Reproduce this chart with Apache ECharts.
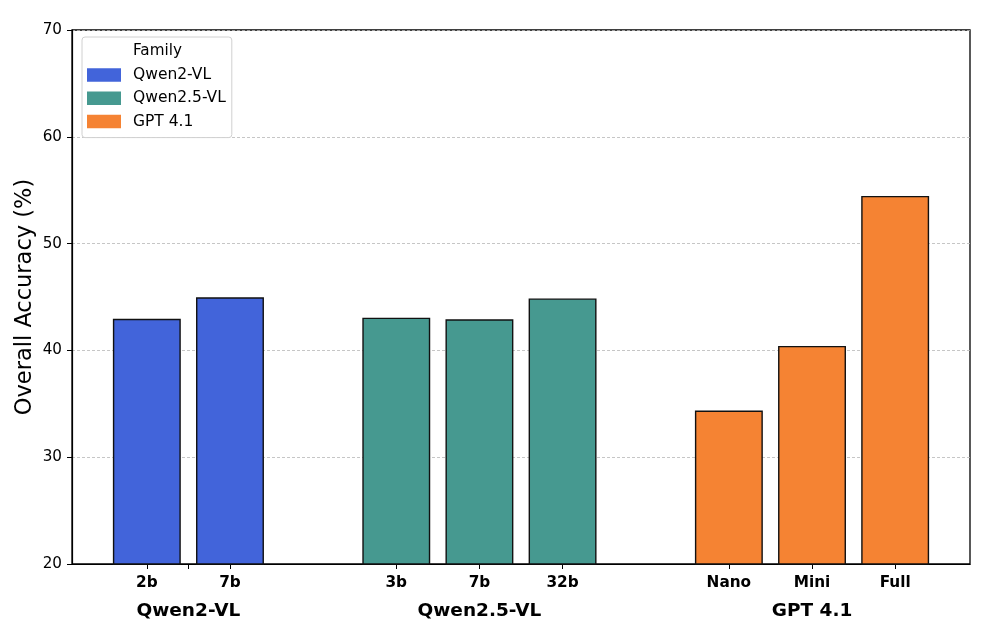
<!DOCTYPE html>
<html><head><meta charset="utf-8">
<script src="https://cdn.jsdelivr.net/npm/echarts@6/dist/echarts.min.js"></script>
<style>html,body{margin:0;padding:0;background:#fff}#c{width:996px;height:636px}</style>
</head><body><div id="c"></div>
<script>
const families = ['Qwen2-VL', 'Qwen2.5-VL', 'GPT 4.1'];
const qwen2Models = ['2b', '7b'];
const qwen2Values = [42.9, 44.9];
const qwen25Models = ['3b', '7b', '32b'];
const qwen25Values = [43.0, 42.85, 44.8];
const gptModels = ['Nano', 'Mini', 'Full'];
const gptValues = [34.3, 40.35, 54.4];
const yTicks = [20, 30, 40, 50, 60, 70];
const colors = ['#4264DA', '#469990', '#F58333'];

const groups = [[qwen2Models, qwen2Values], [qwen25Models, qwen25Values], [gptModels, gptValues]];
let start = 0;
const seriesData = [], tickPos = [], labelPos = [], labelMap = {}, groupPos = [], groupMap = {};
groups.forEach(([models, vals], gi) => {
  const d = [];
  models.forEach((m, i) => { const p = start + i; d.push([p, vals[i]]); tickPos.push(p); labelPos.push(p); labelMap[p] = m; });
  const c = start + (models.length - 1) / 2;
  groupPos.push(c); groupMap[c] = families[gi];
  if (models.length === 2) tickPos.push(c);
  seriesData.push(d);
  start += models.length + 1;
});

const chart = echarts.init(document.getElementById('c'), null, {renderer: 'canvas'});
const font = 'DejaVu Sans';
function renderBar(params, api) {
  const x = api.value(0), y = api.value(1);
  const top = api.coord([x, y]);
  const base = api.coord([x, 20]);
  const w = api.size([0.8, 0])[0];
  return {
    type: 'rect',
    shape: {x: top[0] - w / 2, y: top[1], width: w, height: base[1] - top[1]},
    style: {fill: api.visual('color'), stroke: '#111', lineWidth: 1.4}
  };
}
chart.setOption({
  animation: false,
  grid: {left: 72, right: 26, top: 30, bottom: 72, show: true, borderColor: '#000', borderWidth: 1.3},
  title: {text: 'Family', left: 133, top: 44, padding: 0, textStyle: {fontFamily: font, fontSize: 15.2, fontWeight: 'normal', color: '#000'}, z: 10},
  legend: {
    left: 82, top: 37, orient: 'vertical',
    data: families.map(f => ({name: f, icon: 'rect'})),
    itemWidth: 34, itemHeight: 13.5, itemGap: 7.3,
    padding: [30, 6, 8, 5],
    backgroundColor: '#fff', borderColor: '#d0d0d0', borderWidth: 1, borderRadius: 3,
    textStyle: {fontFamily: font, fontSize: 15.5, lineHeight: 14, color: '#000', padding: [0, 0, 0, 7]}
  },
  xAxis: [{
    type: 'value', min: -0.9, max: 9.9, position: 'bottom',
    splitLine: {show: false},
    axisLine: {show: true, onZero: false, lineStyle: {color: '#000', width: 1.2}},
    axisTick: {show: true, length: 5, lineStyle: {color: '#000', width: 1}, customValues: tickPos},
    axisLabel: {customValues: labelPos, formatter: v => labelMap[v] || '', margin: 12,
      fontFamily: font, fontSize: 15.3, fontWeight: 'bold', color: '#000'}
  }, {
    type: 'value', min: -0.9, max: 9.9, position: 'bottom', offset: 30,
    splitLine: {show: false}, axisLine: {show: false}, axisTick: {show: false},
    axisLabel: {customValues: groupPos, formatter: v => groupMap[v] || '', margin: 8,
      fontFamily: font, fontSize: 18.5, fontWeight: 'bold', color: '#000'}
  }],
  yAxis: {
    type: 'value', min: 20, max: 70, interval: 10,
    name: 'Overall Accuracy (%)', nameLocation: 'middle', nameGap: 35, nameMoveOverlap: false,
    nameTextStyle: {fontFamily: font, fontSize: 22.5, color: '#000'},
    axisLine: {show: true, onZero: false, lineStyle: {color: '#000', width: 1.2}},
    axisTick: {show: true, length: 5, lineStyle: {color: '#000'}},
    axisLabel: {fontFamily: font, fontSize: 15.2, color: '#000', margin: 10, formatter: v => yTicks.includes(v) ? String(v) : ''},
    splitLine: {show: true, lineStyle: {color: '#b8b8b8', width: 0.8, type: [3, 2]}}
  },
  series: families.map((f, i) => ({
    name: f, type: 'custom', renderItem: renderBar, data: seriesData[i],
    itemStyle: {color: colors[i]}, encode: {x: 0, y: 1}, z: 3
  }))
});
</script></body></html>
